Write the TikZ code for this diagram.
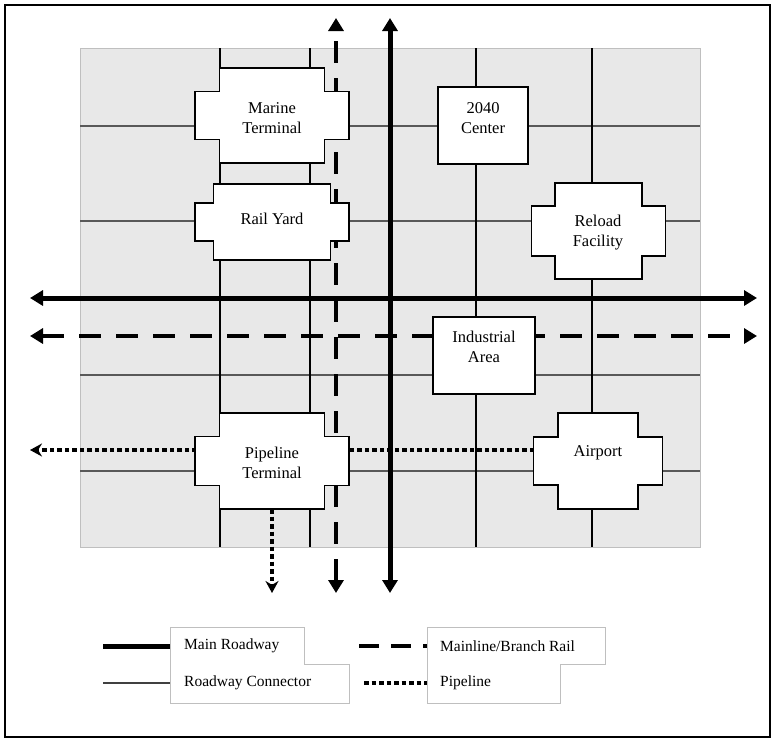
\documentclass[tikz,border=0pt]{standalone}
\usepackage{fontspec}
\setmainfont{Liberation Serif}
\usetikzlibrary{arrows.meta}

% cross shaped facility: cx, cy, inner half width/height, outer half width/height
\newcommand{\facilitybox}[6]{%
  \draw[facility,shift={(#1,#2)}] (-#3,-#4) -- (#3,-#4) -- (#3,-#6) -- (#5,-#6) -- (#5,#6) -- (#3,#6)
    -- (#3,#4) -- (-#3,#4) -- (-#3,#6) -- (-#5,#6) -- (-#5,-#6) -- (-#3,-#6) -- cycle;}

\tikzset{
  road/.style={line width=5pt,{Triangle[length=13pt,width=15pt]}-{Triangle[length=13pt,width=15pt]}},
  rail/.style={line width=4.8pt,dash pattern=on 22pt off 15pt},
  pipe/.style={line width=4.8pt,dash pattern=on 4.5pt off 3pt},
  connector/.style={line width=1.4pt,black!65},
  facility/.style={draw=black,line width=1.6pt,fill=white},
  legendbox/.style={draw=black!25,line width=0.8pt,fill=white},
  lbl/.style={align=center,font=\fontsize{16.5}{20}\selectfont,inner sep=0pt},
  legendlbl/.style={anchor=west,font=\fontsize{15.5}{19}\selectfont,inner sep=0pt}
}

\begin{document}
\begin{tikzpicture}[x=1pt,y=-1pt]
  \useasboundingbox (0,0) rectangle (775,742);
  \draw[line width=2pt] (5,5) rectangle (770,737);

  % study area
  \fill[black!9] (80,48) rectangle (700,547);
  \draw[black!25,line width=0.8pt] (80,48) rectangle (700,547);

  % roadway connectors
  \foreach \y in {126,221,375,471}
    \draw[connector] (80,\y) -- (700,\y);
  \foreach \x in {220,310,476,592}
    \draw[connector,black,line width=1.8pt] (\x,48) -- (\x,547);

  % main roadways and rail
  \draw[road] (30,298) -- (757,298);
  \draw[road] (390,593) -- (390,18);
  \draw[rail,{Triangle[length=13pt,width=15pt]}-{Triangle[length=13pt,width=15pt]}] (30,336) -- (757,336);
  \draw[rail,{Triangle[length=13pt,width=15pt]}-{Triangle[length=13pt,width=15pt]}] (336,593) -- (336,18);

  % pipeline
  \draw[pipe,-{Stealth[length=12pt,width=13pt]}] (534,450) -- (30,450);
  \draw[pipe,-{Stealth[length=12pt,width=13pt]}] (272,509) -- (272,593);

  % facilities
  \facilitybox{272}{115.5}{52.5}{47.5}{77}{24}
  \facilitybox{272}{222}{58.5}{38}{77}{19}
  \facilitybox{598.5}{231}{43.5}{48}{67}{25}
  \facilitybox{272}{461}{52.5}{48}{77}{24.5}
  \facilitybox{598}{461}{40}{48}{64.5}{24}
  \draw[facility] (438,87) rectangle (528,164);
  \draw[facility] (433,317) rectangle (535,394);

  \node[lbl] (marine)  at (272,118) {Marine\\Terminal};
  \node[lbl] (railyard) at (272,219) {Rail Yard};
  \node[lbl] (reload)  at (598,233) {Reload\\Facility};
  \node[lbl] (pipeterm) at (272,463) {Pipeline\\Terminal};
  \node[lbl] (airport) at (598,453) {Airport};
  \node[lbl] (center)  at (483,118) {2040\\Center};
  \node[lbl] (industry) at (484,347) {Industrial\\Area};

  % legend
  \draw[legendbox] (170,627) -- (304,627) -- (304,664) -- (349,664) -- (349,703) -- (170,703) -- cycle;
  \draw[legendbox] (427,627) -- (605,627) -- (605,664) -- (560,664) -- (560,703) -- (427,703) -- cycle;
  \draw[line width=5pt] (103,646) -- (170,646);
  \draw[line width=2pt,black!75] (103,683) -- (170,683);
  \draw[line width=4.8pt,dash pattern=on 20pt off 12pt] (359,646) -- (427,646);
  \draw[pipe] (364,683) -- (427,683);
  \node[legendlbl] (mainroad) at (184,646) {Main Roadway};
  \node[legendlbl] (connect)  at (184,683) {Roadway Connector};
  \node[legendlbl] (mainline) at (440,646) {Mainline/Branch Rail};
  \node[legendlbl] (pipeline) at (440,683) {Pipeline};
\end{tikzpicture}
\end{document}
